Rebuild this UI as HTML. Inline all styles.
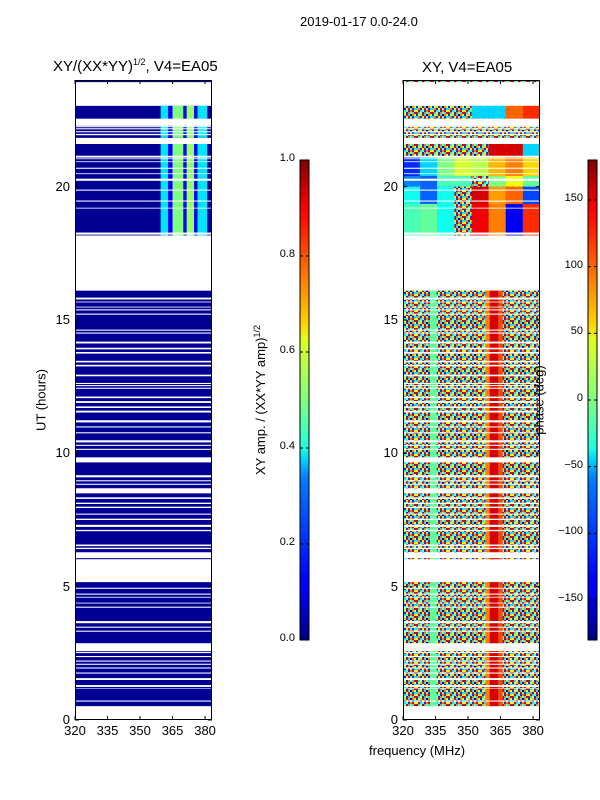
<!DOCTYPE html>
<html><head><meta charset="utf-8">
<style>
body{margin:0;background:#fff;}
#wrap{position:relative;width:600px;height:800px;overflow:hidden;background:#fff;font-family:"Liberation Sans",sans-serif;color:#000;}
.t{position:absolute;white-space:nowrap;font-size:13px;}
svg{position:absolute;left:0;top:0;}
</style></head>
<body>
<div id="wrap">
<svg id="svg" width="600" height="800">
<defs>
<pattern id="noise" width="16" height="8" patternUnits="userSpaceOnUse"></pattern>
<linearGradient id="jetV" x1="0" y1="1" x2="0" y2="0">
<stop offset="0" stop-color="#000080"/><stop offset="0.11" stop-color="#0000ff"/><stop offset="0.125" stop-color="#0000ff"/>
<stop offset="0.34" stop-color="#0080ff"/><stop offset="0.375" stop-color="#00d0ff"/><stop offset="0.4" stop-color="#20ffdf"/>
<stop offset="0.5" stop-color="#7fff7f"/><stop offset="0.625" stop-color="#dfff20"/><stop offset="0.66" stop-color="#ffd000"/>
<stop offset="0.75" stop-color="#ff8000"/><stop offset="0.875" stop-color="#ff1000"/><stop offset="0.9" stop-color="#ff0000"/><stop offset="1" stop-color="#800000"/>
</linearGradient>
</defs>
</svg>
<div class="t" style="left:300px;top:14px;font-size:13px;">2019-01-17 0.0-24.0</div>
<div class="t" style="left:53px;top:57px;font-size:15px;">XY/(XX*YY)<sup style="font-size:9px">1/2</sup>, V4=EA05</div>
<div class="t" style="left:422px;top:59px;font-size:15px;">XY, V4=EA05</div>
<div class="t" style="left:41px;top:400px;font-size:13px;transform:translate(-50%,-50%) rotate(-90deg);">UT (hours)</div>
<div class="t" style="left:369px;top:743px;font-size:13px;">frequency (MHz)</div>
<div class="t" style="left:260px;top:400px;font-size:13px;transform:translate(-50%,-50%) rotate(-90deg);">XY amp. / (XX*YY amp)<sup style="font-size:9px">1/2</sup></div>
<div class="t" style="left:539px;top:400px;font-size:13px;transform:translate(-50%,-50%) rotate(-90deg);">phase (deg)</div>
<div id="labels"></div>
</div>
<script>
// ---------- data ----------
const blocks=[[0.52,2.58],[2.88,5.17],[6.03,16.1],[18.17,21.6],[21.83,23.03],[23.92,24.0]];
const gaps=[[15.77,15.84],[15.66,15.69],[15.47,15.5],[15.36,15.4],[15.2,15.24],[14.6,14.64],[14.49,14.53],[14.12,14.19],[13.9,13.96],[13.74,13.8],[13.41,13.47],[13.26,13.32],[12.89,12.95],[12.6,12.64],[12.52,12.56],[12.42,12.46],[12.07,12.13],[11.89,11.96],[11.7,11.76],[11.53,11.6],[11.16,11.24],[10.97,11.01],[10.75,10.79],[10.41,10.49],[10.28,10.32],[10.13,10.17],[9.66,9.85],[9.1,9.18],[8.95,8.99],[8.82,8.86],[8.5,8.69],[8.29,8.35],[8.1,8.15],[7.95,8.0],[7.7,7.74],[7.5,7.55],[7.24,7.32],[7.08,7.13],[6.52,6.58],[6.41,6.46],[6.07,6.29],[4.92,4.96],[4.7,4.74],[4.59,4.62],[4.37,4.4],[4.21,4.25],[3.63,3.71],[3.46,3.5],[3.31,3.35],[2.51,2.55],[2.36,2.4],[2.19,2.23],[2.07,2.11],[1.93,1.97],[1.74,1.78],[1.5,1.57],[1.24,1.31],[1.18,1.2],[0.69,0.73],[21.09,21.16],[21.03,21.06],[20.92,20.95],[20.67,20.71],[20.47,20.5],[20.22,20.3],[19.85,19.89],[19.44,19.48],[19.18,19.21],[18.2,18.28],[22.28,22.55],[22.23,22.27],[22.15,22.19],[22.04,22.08],[21.93,21.98]];
const ampBase=0.02;
const ampBands=[[359.5,363,0.35],[363,365,0.12],[365,370,0.5],[370,371.5,0.12],[371.5,375,0.52],[375,376.5,0.12],[376.5,381,0.35]];
const ampBandHours=[18.17,23.03];
const phaseBands=[[332.5,335.5,-10],[358,360,90],[360,364,150],[364,366,110]];
const gridRows=[[22.55,23.03],[21.83,22.55],[21.15,21.6],[20.4,21.15],[20.0,20.4],[19.35,20.0],[18.17,19.35]];
const gridVals=[
 [null,null,null,null,-60,-60,100,120],
 [null,null,null,null,null,null,null,null],
 [null,null,null,null,null,150,150,-60],
 [-120,-60,0,30,20,70,90,60],
 [-90,-100,-20,-20,null,0,40,-10],
 [-40,-100,-40,null,150,80,100,-110],
 [-20,-10,-40,null,140,90,-140,120]];
const xTicks=[320,335,350,365,380];
const yTicks=[0,5,10,15,20];
const ampTicks=[0.0,0.2,0.4,0.6,0.8,1.0];
const phaseTicks=[-150,-100,-50,0,50,100,150];
// ---------- scales ----------
const F0=320,F1=383.2,H0=0,H1=24;
const PL={x0:75,x1:212},PR={x0:403,x1:540},TOP=80,BOT=720;
function xs(p,f){return p.x0+(f-F0)*(p.x1-p.x0)/(F1-F0);}
function ys(h){return BOT-(h-H0)*(BOT-TOP)/(H1-H0);}
function jet(v){v=Math.max(0,Math.min(1,v));
 const r=Math.max(0,Math.min(1,1.5-Math.abs(4*v-3))),g=Math.max(0,Math.min(1,1.5-Math.abs(4*v-2))),b=Math.max(0,Math.min(1,1.5-Math.abs(4*v-1)));
 return `rgb(${Math.round(r*255)},${Math.round(g*255)},${Math.round(b*255)})`;}
function pc(ph){return jet((ph+180)/360);}
const svg=document.getElementById('svg');const NS='http://www.w3.org/2000/svg';
function rect(parent,x,y,w,h,fill,name){const r=document.createElementNS(NS,'rect');
 r.setAttribute('x',x);r.setAttribute('y',y);r.setAttribute('width',w);r.setAttribute('height',h);r.setAttribute('fill',fill);
 
 
 parent.appendChild(r);return r;}
// noise tile
const tile=["rcybogcr","bygrcnoy","cobyrgbc","yrcgbory"];
const tc={r:'#e00000',o:'#ff8000',y:'#e0ff20',c:'#20e0ff',b:'#0030ff',g:'#80ff80',n:'#000090'};
const pat=document.getElementById('noise');
tile.forEach((row,j)=>{[...row].forEach((ch,i)=>{rect(pat,i*2,j*2,2,2,tc[ch],'noise-cell');});});
function grp(name){const g=document.createElementNS(NS,'g');
 svg.appendChild(g);return g;}
// ---------- left panel ----------
const gL=grp('amplitude-heatmap');
blocks.forEach(b=>{const y=ys(b[1]),h=ys(b[0])-ys(b[1]);
 rect(gL,PL.x0,y,PL.x1-PL.x0,h,jet(ampBase),'amp-row-block');
 const lo=Math.max(b[0],ampBandHours[0]),hi=Math.min(b[1],ampBandHours[1]);
 if(hi>lo){ampBands.forEach(a=>{rect(gL,xs(PL,a[0]),ys(hi),xs(PL,a[1])-xs(PL,a[0]),ys(lo)-ys(hi),jet(a[2]),'amp-band-cell');});}
});
// ---------- right panel ----------
const gR=grp('phase-heatmap');
blocks.forEach(b=>{const y=ys(b[1]),h=ys(b[0])-ys(b[1]);
 rect(gR,PR.x0,y,PR.x1-PR.x0,h,'url(#noise)','phase-row-block');
 if(b[1]<=16.2){phaseBands.forEach(p=>{rect(gR,xs(PR,p[0]),y,xs(PR,p[1])-xs(PR,p[0]),h,pc(p[2]),'phase-band-cell');});}
});
const cw=(F1-F0)/8;
gridRows.forEach((r,i)=>{gridVals[i].forEach((v,j)=>{if(v===null)return;
 rect(gR,xs(PR,F0+j*cw),ys(r[1]),xs(PR,F0+(j+1)*cw)-xs(PR,F0+j*cw),ys(r[0])-ys(r[1]),pc(v),'phase-grid-cell');});});
// gaps
[gL,gR].forEach((g,k)=>{const P=k?PR:PL;gaps.forEach(gp=>{rect(g,P.x0,ys(gp[1]),P.x1-P.x0,ys(gp[0])-ys(gp[1]),'#fff','gap-row');});});
// ---------- axes ----------
const lab=document.getElementById('labels');
function text(x,y,s,anchor,name,fs){const d=document.createElement('div');d.className='t';d.textContent=s;
 if(fs)d.style.fontSize=fs+'px';
 d.style.top=(y-8)+'px';
 if(anchor==='end'){d.style.right=(600-x)+'px';}else if(anchor==='mid'){d.style.left=x+'px';d.style.transform='translateX(-50%)';}else{d.style.left=x+'px';}
 
 
 lab.appendChild(d);}
function line(x1,y1,x2,y2,name,w){const l=document.createElementNS(NS,'line');
 l.setAttribute('x1',x1);l.setAttribute('y1',y1);l.setAttribute('x2',x2);l.setAttribute('y2',y2);l.setAttribute('stroke','#000');l.setAttribute('stroke-width',w||1);
 
 
 svg.appendChild(l);}
[PL,PR].forEach((P,k)=>{
 const f=document.createElementNS(NS,'rect');f.setAttribute('x',P.x0+0.5);f.setAttribute('y',TOP+0.5);f.setAttribute('width',P.x1-P.x0-1);f.setAttribute('height',BOT-TOP-1);
 f.setAttribute('fill','none');f.setAttribute('stroke','#000');
 
 
 svg.appendChild(f);
 xTicks.forEach(t=>{const x=xs(P,t);line(x,BOT,x,BOT-4,'x-tick');line(x,TOP,x,TOP+4,'x-tick');text(x,BOT+11,String(t),'mid','x-tick-label');});
 yTicks.forEach(t=>{const y=ys(t);line(P.x0,y,P.x0+4,y,'y-tick');line(P.x1,y,P.x1-4,y,'y-tick');text(P.x0-5,y,String(t),'end','y-tick-label');});
});
// colorbars
function cbar(x,name){const r=document.createElementNS(NS,'rect');r.setAttribute('x',x);r.setAttribute('y',160);r.setAttribute('width',9);r.setAttribute('height',480);
 r.setAttribute('fill','url(#jetV)');r.setAttribute('stroke','#000');r.setAttribute('stroke-width',1);
 
 
 svg.appendChild(r);}
cbar(300,'amp-colorbar');cbar(588,'phase-colorbar');
ampTicks.forEach(t=>{const y=640-t*480;line(300,y,303,y,'amp-colorbar-tick');line(309,y,306,y,'amp-colorbar-tick');text(295,y,t.toFixed(1),'end','amp-colorbar-tick-label',11);});
phaseTicks.forEach(t=>{const y=640-(t+180)/360*480;line(588,y,591,y,'phase-colorbar-tick');line(597,y,594,y,'phase-colorbar-tick');text(583,y,(t<0?'\u2212'+(-t):String(t)),'end','phase-colorbar-tick-label',11);});
</script>
</body></html>
